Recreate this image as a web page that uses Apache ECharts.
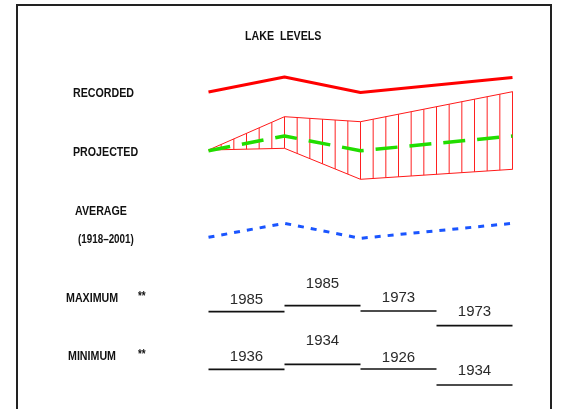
<!DOCTYPE html>
<html>
<head>
<meta charset="utf-8">
<script src="https://cdn.jsdelivr.net/npm/echarts@6/dist/echarts.min.js"></script>
<style>
  html, body { margin: 0; padding: 0; background: #fff; }
  #chart { width: 561px; height: 409px; }
</style>
</head>
<body>
<div id="chart"></div>
<script>
// ---- data (levels in arbitrary relative units) ----
const periods = [0, 1, 2, 4];               // time positions of the line points (4 periods)
const recorded = [18, 33, 17.5, 32.5];
const projected = [49.3, 64, 49.3, 64];
const projectedHigh = [50, 83.3, 78.3, 108.3];
const projectedLow = [50, 51.7, 20.7, 30.7];
const average = [12.7, 26.7, 11.7, 26.7];
const maxLevel = [88.3, 94.3, 89, 74.3];
const maxYear = ['1985', '1985', '1973', '1973'];
const minLevel = [30.7, 35.7, 31, 15];
const minYear = ['1936', '1934', '1926', '1934'];
const titleText = 'LAKE  LEVELS';
const rowLabels = ['RECORDED', 'PROJECTED', 'AVERAGE', '(1918\u20132001)', 'MAXIMUM', 'MINIMUM'];
const noteMark = '**';

// ---- styles / layout ----
const maxLift = [4.5, 14.5, 5.5, 6.5];
const minLift = [4.5, 15.5, 4, 6.5];
const hatchPerPeriod = 6;
const boldFont = "bold 13px 'Liberation Sans', Arial, sans-serif";
const narrow = 0.82;

const chart = echarts.init(document.getElementById('chart'), null, { renderer: 'canvas' });

const gx = { left: 208.5, width: 304 };
const grids = [
  Object.assign({ top: 60, height: 50 }, gx),
  Object.assign({ top: 80, height: 120 }, gx),
  Object.assign({ top: 200, height: 50 }, gx),
  Object.assign({ top: 260, height: 140 }, gx)
];
const yMax = [50, 120, 50, 140];

const xAxes = grids.map((g, i) => ({ type: 'value', gridIndex: i, min: 0, max: 4, show: false }));
const yAxes = grids.map((g, i) => ({ type: 'value', gridIndex: i, min: 0, max: yMax[i], show: false }));

function pts(arr) { return periods.map((p, i) => [p, arr[i]]); }

function interp(arr, x) {
  for (let j = 0; j < periods.length - 1; j++) {
    const a = periods[j], b = periods[j + 1];
    if (x >= a && x <= b) {
      const t = (x - a) / (b - a);
      return arr[j] + (arr[j + 1] - arr[j]) * t;
    }
  }
  return arr[arr.length - 1];
}

function stepSeries(levels, years, lifts, gridIdx) {
  return {
    type: 'custom',
    xAxisIndex: gridIdx, yAxisIndex: gridIdx,
    clip: false,
    data: levels.map((v, i) => [i, v, years[i]]),
    renderItem: function (params, api) {
      const i = api.value(0), v = api.value(1);
      const p0 = api.coord([i, v]), p1 = api.coord([i + 1, v]);
      return {
        type: 'group',
        children: [
          { type: 'line', shape: { x1: p0[0], y1: p0[1], x2: p1[0], y2: p1[1] },
            style: { stroke: '#111', lineWidth: 1.7 } },
          { type: 'text', x: (p0[0] + p1[0]) / 2, y: p0[1] - lifts[params.dataIndex],
            style: { text: years[params.dataIndex], font: "15px 'Liberation Sans', Arial, sans-serif",
                     fill: '#2a2a2a', align: 'center', verticalAlign: 'bottom' } }
        ]
      };
    }
  };
}

const hatchSeries = {
  type: 'custom',
  xAxisIndex: 1, yAxisIndex: 1,
  clip: false,
  z: 2,
  data: [[0, projectedHigh[0]]],
  renderItem: function (params, api) {
    const children = [];
    const outline = [];
    periods.forEach((p, i) => outline.push(api.coord([p, projectedHigh[i]])));
    for (let i = periods.length - 1; i >= 0; i--) outline.push(api.coord([periods[i], projectedLow[i]]));
    children.push({ type: 'polygon', shape: { points: outline },
      style: { fill: 'none', stroke: '#ff1a1a', lineWidth: 1 } });
    const last = periods[periods.length - 1];
    const n = last * hatchPerPeriod;
    for (let k = 1; k <= n; k++) {
      const x = k / hatchPerPeriod;
      const a = api.coord([x, interp(projectedHigh, x)]);
      const b = api.coord([x, interp(projectedLow, x)]);
      children.push({ type: 'line', shape: { x1: a[0], y1: a[1], x2: b[0], y2: b[1] },
        style: { stroke: '#ff2020', lineWidth: 1 } });
    }
    return { type: 'group', children: children };
  }
};

function textEl(str, x, y, font, extra) {
  return Object.assign({
    type: 'text', x: x, y: y, scaleX: narrow, scaleY: 1,
    style: { text: str, font: font || boldFont, fill: '#111', verticalAlign: 'middle', align: 'left' }
  }, extra || {});
}

const option = {
  animation: false,
  backgroundColor: '#fff',
  grid: grids,
  xAxis: xAxes,
  yAxis: yAxes,
  series: [
    { type: 'line', xAxisIndex: 0, yAxisIndex: 0, data: pts(recorded), symbol: 'none',
      lineStyle: { color: '#ff0000', width: 3.2 }, z: 3 },
    hatchSeries,
    { type: 'line', xAxisIndex: 1, yAxisIndex: 1, data: pts(projected), symbol: 'none',
      lineStyle: { color: '#22dd00', width: 3.5, type: [22, 12] }, z: 4 },
    { type: 'line', xAxisIndex: 2, yAxisIndex: 2, data: pts(average), symbol: 'none',
      lineStyle: { color: '#1a55ff', width: 3, type: [6, 7] }, z: 3 },
    stepSeries(maxLevel, maxYear, maxLift, 3),
    stepSeries(minLevel, minYear, minLift, 3)
  ],
  graphic: [
    { type: 'polyline', shape: { points: [[17, 420], [17, 5], [551, 5], [551, 420]] },
      style: { stroke: '#222', lineWidth: 2, fill: 'none' } },
    textEl(titleText, 245, 36),
    textEl(rowLabels[0], 73, 93.5),
    textEl(rowLabels[1], 73, 152.5),
    textEl(rowLabels[2], 75, 211),
    textEl(rowLabels[3], 78, 239.5, "bold 12px 'Liberation Sans', Arial, sans-serif"),
    textEl(rowLabels[4], 66, 298),
    textEl(noteMark, 138, 297, "bold 12px 'Liberation Sans', Arial, sans-serif"),
    textEl(rowLabels[5], 68, 356),
    textEl(noteMark, 138, 355, "bold 12px 'Liberation Sans', Arial, sans-serif")
  ]
};
chart.setOption(option);
</script>
</body>
</html>
